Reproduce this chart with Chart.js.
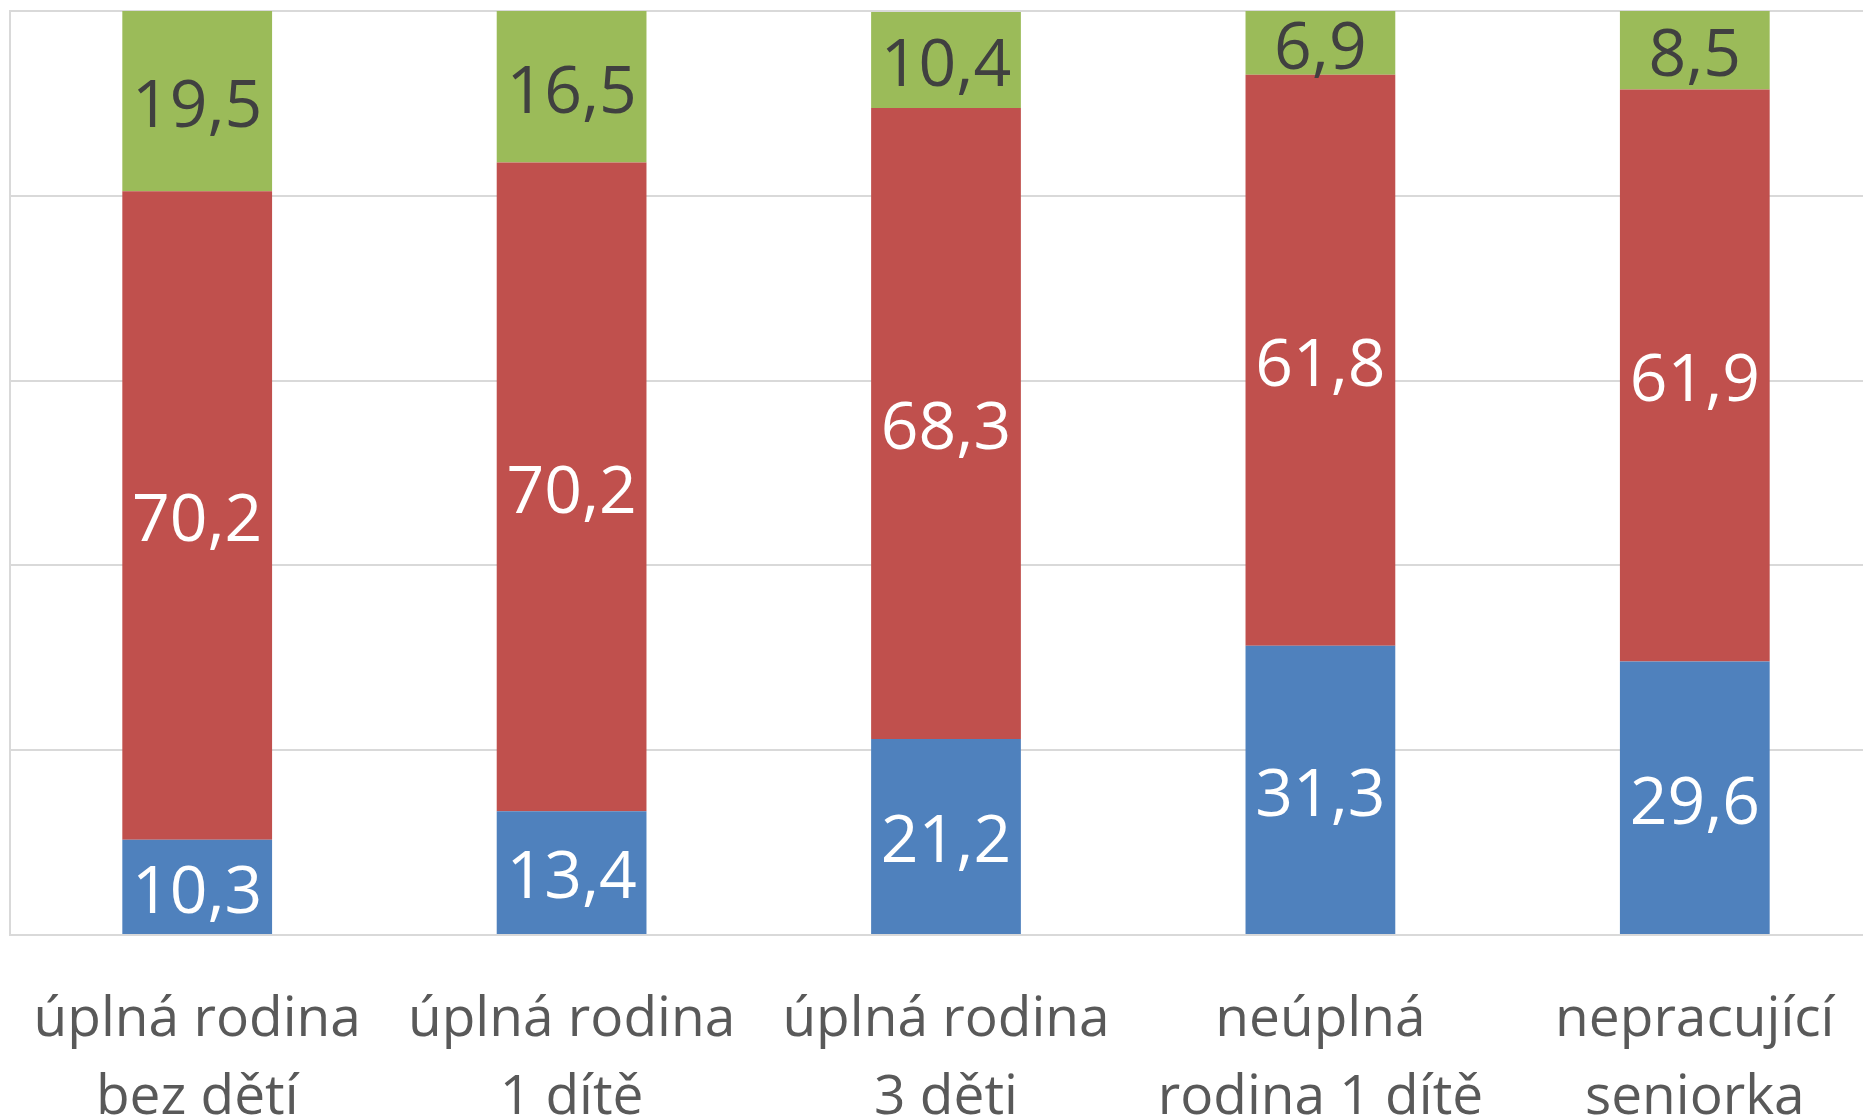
<!DOCTYPE html>
<html>
<head>
<meta charset="utf-8">
<script src="https://cdn.jsdelivr.net/npm/chart.js@4/dist/chart.umd.min.js"></script>
<style>
  html, body { margin: 0; padding: 0; background: #ffffff; overflow: hidden; width: 1863px; height: 1118px; }
  #wrap { position: absolute; left: 0; top: 0; width: 1882px; height: 1118px; }
</style>
</head>
<body>
<div id="wrap"><canvas id="c"></canvas></div>
<script>
const categories = [
  ["úplná rodina", "bez dětí"],
  ["úplná rodina", "1 dítě"],
  ["úplná rodina", "3 děti"],
  ["neúplná", "rodina 1 dítě"],
  ["nepracující", "seniorka"]
];
const seriesNames = ["Série 1", "Série 2", "Série 3"];
const seriesBlue = [10.3, 13.4, 21.2, 31.3, 29.6];
const seriesRed = [70.2, 70.2, 68.3, 61.8, 61.9];
const seriesGreen = [19.5, 16.5, 10.4, 6.9, 8.5];
const yTicks = [0, 20, 40, 60, 80, 100];

const colors = ["#4F81BD", "#C0504D", "#9BBB59"];
const labelColors = ["#ffffff", "#ffffff", "#404040"];

const labelPlugin = {
  id: 'segLabels',
  afterDatasetsDraw(chart) {
    const ctx = chart.ctx;
    ctx.save();
    ctx.font = '66px "Open Sans"';
    ctx.textAlign = 'center';
    ctx.textBaseline = 'middle';
    chart.data.datasets.forEach((ds, i) => {
      const meta = chart.getDatasetMeta(i);
      meta.data.forEach((bar, j) => {
        const v = ds.data[j];
        const top = Math.max(bar.y, chart.chartArea.top);
        const yc = (top + bar.base) / 2;
        ctx.fillStyle = labelColors[i];
        ctx.fillText(v.toFixed(1).replace('.', ','), bar.x, yc + 7);
      });
    });
    ctx.restore();
  }
};

new Chart(document.getElementById('c'), {
  type: 'bar',
  data: {
    labels: categories,
    datasets: [
      { label: seriesNames[0], data: seriesBlue, backgroundColor: colors[0] },
      { label: seriesNames[1], data: seriesRed, backgroundColor: colors[1] },
      { label: seriesNames[2], data: seriesGreen, backgroundColor: colors[2] }
    ]
  },
  options: {
    responsive: true,
    maintainAspectRatio: false,
    animation: false,
    layout: { padding: { left: 10, top: 11, right: 0, bottom: 0 } },
    datasets: { bar: { categoryPercentage: 1.0, barPercentage: 0.4, borderWidth: 0 } },
    plugins: { legend: { display: false }, tooltip: { enabled: false } },
    scales: {
      x: {
        stacked: true,
        grid: { display: false, drawTicks: false },
        border: { display: false },
        ticks: {
          color: '#595959',
          font: { family: '"Open Sans"', size: 55, lineHeight: 1.41 },
          padding: 47,
          maxRotation: 0,
          autoSkip: false
        },
        afterFit(scale) {
          scale.height = 183;
          scale.paddingLeft = 0;
          scale.paddingRight = 0;
        }
      },
      y: {
        stacked: true,
        min: 0,
        max: 100,
        afterBuildTicks(scale) { scale.ticks = yTicks.map(v => ({ value: v })); },
        afterFit(scale) { scale.width = 0; },
        grid: { color: '#d9d9d9', lineWidth: 2, drawTicks: false },
        border: { display: true, color: '#d9d9d9', width: 2 },
        ticks: { display: false }
      }
    }
  },
  plugins: [labelPlugin]
});
</script>
</body>
</html>
